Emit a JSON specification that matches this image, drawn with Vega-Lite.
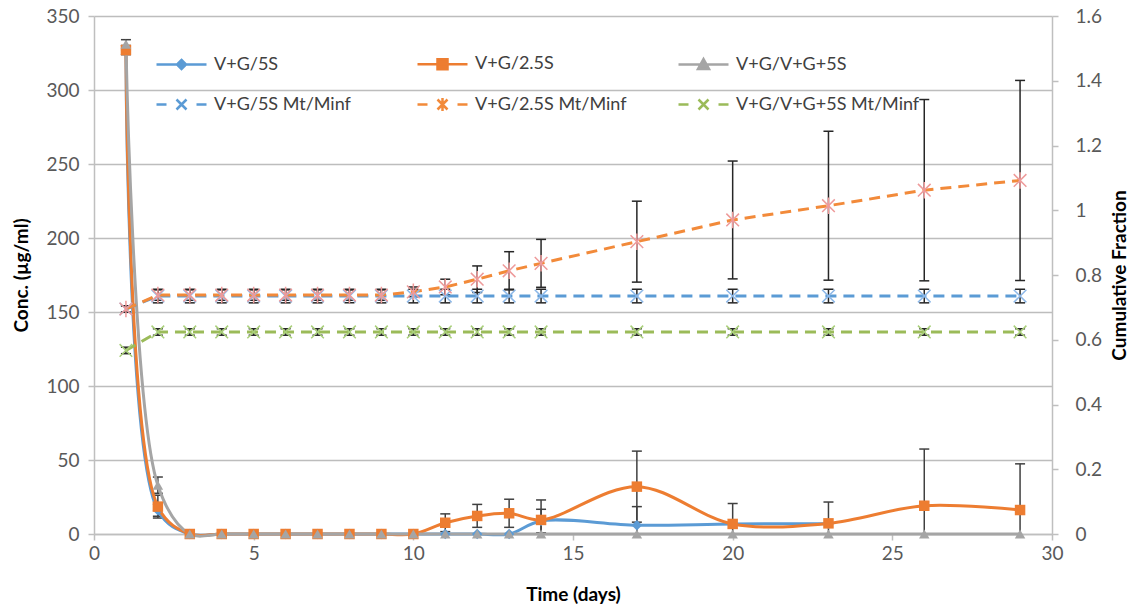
{
  "$schema": "https://vega.github.io/schema/vega-lite/v6.json",
  "width": 958,
  "height": 518,
  "autosize": "none",
  "padding": {"left": 94, "top": 16, "right": 92, "bottom": 76},
  "background": "white",
  "config": {
    "view": {"stroke": null},
    "font": "Lato",
    "axis": {
      "labelFont": "Lato", "labelFontSize": 19, "labelColor": "#595959",
      "titleFont": "Lato", "titleFontSize": 19, "titleFontWeight": "bold", "titleColor": "#000000",
      "domainColor": "#BFBFBF", "domainWidth": 1.5, "tickColor": "#BFBFBF", "tickWidth": 1.5, "tickSize": 6,
      "gridColor": "#BDBDBD", "gridWidth": 1.5
    },
    "axisX": {"grid": false},
    "axisY": {"grid": false}
  },
  "datasets": {
    "conc": [
      {"day": 1, "series": "V+G/5S", "conc": 327, "lo": 324, "hi": 330},
      {"day": 2, "series": "V+G/5S", "conc": 16, "lo": 12, "hi": 20},
      {"day": 3, "series": "V+G/5S", "conc": 0},
      {"day": 4, "series": "V+G/5S", "conc": 0},
      {"day": 5, "series": "V+G/5S", "conc": 0},
      {"day": 6, "series": "V+G/5S", "conc": 0},
      {"day": 7, "series": "V+G/5S", "conc": 0},
      {"day": 8, "series": "V+G/5S", "conc": 0},
      {"day": 9, "series": "V+G/5S", "conc": 0},
      {"day": 10, "series": "V+G/5S", "conc": 0},
      {"day": 11, "series": "V+G/5S", "conc": 0},
      {"day": 12, "series": "V+G/5S", "conc": 0},
      {"day": 13, "series": "V+G/5S", "conc": 0},
      {"day": 14, "series": "V+G/5S", "conc": 8.8, "lo": 0.8, "hi": 16.7},
      {"day": 17, "series": "V+G/5S", "conc": 5.9, "lo": -6.7, "hi": 18.5},
      {"day": 20, "series": "V+G/5S", "conc": 6.8},
      {"day": 23, "series": "V+G/5S", "conc": 7},
      {"day": 1, "series": "V+G/2.5S", "conc": 327, "lo": 324, "hi": 330},
      {"day": 2, "series": "V+G/2.5S", "conc": 18.5, "lo": 10.8, "hi": 26.2},
      {"day": 3, "series": "V+G/2.5S", "conc": 0},
      {"day": 4, "series": "V+G/2.5S", "conc": 0},
      {"day": 5, "series": "V+G/2.5S", "conc": 0},
      {"day": 6, "series": "V+G/2.5S", "conc": 0},
      {"day": 7, "series": "V+G/2.5S", "conc": 0},
      {"day": 8, "series": "V+G/2.5S", "conc": 0},
      {"day": 9, "series": "V+G/2.5S", "conc": 0},
      {"day": 10, "series": "V+G/2.5S", "conc": 0},
      {"day": 11, "series": "V+G/2.5S", "conc": 7.6, "lo": 1.6, "hi": 13.6},
      {"day": 12, "series": "V+G/2.5S", "conc": 12.2, "lo": 4.5, "hi": 20},
      {"day": 13, "series": "V+G/2.5S", "conc": 14, "lo": 4.5, "hi": 23.5},
      {"day": 14, "series": "V+G/2.5S", "conc": 9.5, "lo": -4, "hi": 23},
      {"day": 17, "series": "V+G/2.5S", "conc": 32, "lo": 8, "hi": 56},
      {"day": 20, "series": "V+G/2.5S", "conc": 6.8, "lo": -7, "hi": 20.6},
      {"day": 23, "series": "V+G/2.5S", "conc": 7.2, "lo": -7.2, "hi": 21.6},
      {"day": 26, "series": "V+G/2.5S", "conc": 19.1, "lo": -19.2, "hi": 57.4},
      {"day": 29, "series": "V+G/2.5S", "conc": 16.2, "lo": -15, "hi": 47.4},
      {"day": 1, "series": "V+G/V+G+5S", "conc": 331, "lo": 328, "hi": 334},
      {"day": 2, "series": "V+G/V+G+5S", "conc": 33, "lo": 27.5, "hi": 38.5},
      {"day": 3, "series": "V+G/V+G+5S", "conc": 0},
      {"day": 4, "series": "V+G/V+G+5S", "conc": 0},
      {"day": 5, "series": "V+G/V+G+5S", "conc": 0},
      {"day": 6, "series": "V+G/V+G+5S", "conc": 0},
      {"day": 7, "series": "V+G/V+G+5S", "conc": 0},
      {"day": 8, "series": "V+G/V+G+5S", "conc": 0},
      {"day": 9, "series": "V+G/V+G+5S", "conc": 0},
      {"day": 10, "series": "V+G/V+G+5S", "conc": 0},
      {"day": 11, "series": "V+G/V+G+5S", "conc": 0},
      {"day": 12, "series": "V+G/V+G+5S", "conc": 0},
      {"day": 13, "series": "V+G/V+G+5S", "conc": 0},
      {"day": 14, "series": "V+G/V+G+5S", "conc": 0},
      {"day": 17, "series": "V+G/V+G+5S", "conc": 0},
      {"day": 20, "series": "V+G/V+G+5S", "conc": 0},
      {"day": 23, "series": "V+G/V+G+5S", "conc": 0},
      {"day": 26, "series": "V+G/V+G+5S", "conc": 0},
      {"day": 29, "series": "V+G/V+G+5S", "conc": 0}
    ],
    "frac": [
      {"day": 1, "series": "V+G/5S Mt/Minf", "frac": 0.695, "lo": 0.685, "hi": 0.705},
      {"day": 2, "series": "V+G/5S Mt/Minf", "frac": 0.735, "lo": 0.714, "hi": 0.756},
      {"day": 3, "series": "V+G/5S Mt/Minf", "frac": 0.735, "lo": 0.714, "hi": 0.756},
      {"day": 4, "series": "V+G/5S Mt/Minf", "frac": 0.735, "lo": 0.714, "hi": 0.756},
      {"day": 5, "series": "V+G/5S Mt/Minf", "frac": 0.735, "lo": 0.714, "hi": 0.756},
      {"day": 6, "series": "V+G/5S Mt/Minf", "frac": 0.735, "lo": 0.714, "hi": 0.756},
      {"day": 7, "series": "V+G/5S Mt/Minf", "frac": 0.735, "lo": 0.714, "hi": 0.756},
      {"day": 8, "series": "V+G/5S Mt/Minf", "frac": 0.735, "lo": 0.714, "hi": 0.756},
      {"day": 9, "series": "V+G/5S Mt/Minf", "frac": 0.735, "lo": 0.714, "hi": 0.756},
      {"day": 10, "series": "V+G/5S Mt/Minf", "frac": 0.735, "lo": 0.714, "hi": 0.756},
      {"day": 11, "series": "V+G/5S Mt/Minf", "frac": 0.735, "lo": 0.714, "hi": 0.756},
      {"day": 12, "series": "V+G/5S Mt/Minf", "frac": 0.735, "lo": 0.714, "hi": 0.756},
      {"day": 13, "series": "V+G/5S Mt/Minf", "frac": 0.735, "lo": 0.714, "hi": 0.756},
      {"day": 14, "series": "V+G/5S Mt/Minf", "frac": 0.735, "lo": 0.714, "hi": 0.756},
      {"day": 17, "series": "V+G/5S Mt/Minf", "frac": 0.735, "lo": 0.714, "hi": 0.756},
      {"day": 20, "series": "V+G/5S Mt/Minf", "frac": 0.735, "lo": 0.714, "hi": 0.756},
      {"day": 23, "series": "V+G/5S Mt/Minf", "frac": 0.735, "lo": 0.714, "hi": 0.756},
      {"day": 26, "series": "V+G/5S Mt/Minf", "frac": 0.735, "lo": 0.714, "hi": 0.756},
      {"day": 29, "series": "V+G/5S Mt/Minf", "frac": 0.735, "lo": 0.714, "hi": 0.756},
      {"day": 1, "series": "V+G/2.5S Mt/Minf", "frac": 0.695, "lo": 0.685, "hi": 0.705},
      {"day": 2, "series": "V+G/2.5S Mt/Minf", "frac": 0.738, "lo": 0.722, "hi": 0.754},
      {"day": 3, "series": "V+G/2.5S Mt/Minf", "frac": 0.738, "lo": 0.722, "hi": 0.754},
      {"day": 4, "series": "V+G/2.5S Mt/Minf", "frac": 0.738, "lo": 0.722, "hi": 0.754},
      {"day": 5, "series": "V+G/2.5S Mt/Minf", "frac": 0.738, "lo": 0.722, "hi": 0.754},
      {"day": 6, "series": "V+G/2.5S Mt/Minf", "frac": 0.738, "lo": 0.722, "hi": 0.754},
      {"day": 7, "series": "V+G/2.5S Mt/Minf", "frac": 0.738, "lo": 0.722, "hi": 0.754},
      {"day": 8, "series": "V+G/2.5S Mt/Minf", "frac": 0.738, "lo": 0.722, "hi": 0.754},
      {"day": 9, "series": "V+G/2.5S Mt/Minf", "frac": 0.738, "lo": 0.722, "hi": 0.754},
      {"day": 10, "series": "V+G/2.5S Mt/Minf", "frac": 0.748, "lo": 0.733, "hi": 0.763},
      {"day": 11, "series": "V+G/2.5S Mt/Minf", "frac": 0.763, "lo": 0.739, "hi": 0.787},
      {"day": 12, "series": "V+G/2.5S Mt/Minf", "frac": 0.787, "lo": 0.746, "hi": 0.828},
      {"day": 13, "series": "V+G/2.5S Mt/Minf", "frac": 0.813, "lo": 0.754, "hi": 0.872},
      {"day": 14, "series": "V+G/2.5S Mt/Minf", "frac": 0.836, "lo": 0.762, "hi": 0.91},
      {"day": 17, "series": "V+G/2.5S Mt/Minf", "frac": 0.903, "lo": 0.778, "hi": 1.028},
      {"day": 20, "series": "V+G/2.5S Mt/Minf", "frac": 0.97, "lo": 0.788, "hi": 1.152},
      {"day": 23, "series": "V+G/2.5S Mt/Minf", "frac": 1.014, "lo": 0.784, "hi": 1.244},
      {"day": 26, "series": "V+G/2.5S Mt/Minf", "frac": 1.062, "lo": 0.782, "hi": 1.342},
      {"day": 29, "series": "V+G/2.5S Mt/Minf", "frac": 1.092, "lo": 0.783, "hi": 1.401},
      {"day": 1, "series": "V+G/V+G+5S Mt/Minf", "frac": 0.567, "lo": 0.557, "hi": 0.577},
      {"day": 2, "series": "V+G/V+G+5S Mt/Minf", "frac": 0.624, "lo": 0.614, "hi": 0.634},
      {"day": 3, "series": "V+G/V+G+5S Mt/Minf", "frac": 0.624, "lo": 0.614, "hi": 0.634},
      {"day": 4, "series": "V+G/V+G+5S Mt/Minf", "frac": 0.624, "lo": 0.614, "hi": 0.634},
      {"day": 5, "series": "V+G/V+G+5S Mt/Minf", "frac": 0.624, "lo": 0.614, "hi": 0.634},
      {"day": 6, "series": "V+G/V+G+5S Mt/Minf", "frac": 0.624, "lo": 0.614, "hi": 0.634},
      {"day": 7, "series": "V+G/V+G+5S Mt/Minf", "frac": 0.624, "lo": 0.614, "hi": 0.634},
      {"day": 8, "series": "V+G/V+G+5S Mt/Minf", "frac": 0.624, "lo": 0.614, "hi": 0.634},
      {"day": 9, "series": "V+G/V+G+5S Mt/Minf", "frac": 0.624, "lo": 0.614, "hi": 0.634},
      {"day": 10, "series": "V+G/V+G+5S Mt/Minf", "frac": 0.624, "lo": 0.614, "hi": 0.634},
      {"day": 11, "series": "V+G/V+G+5S Mt/Minf", "frac": 0.624, "lo": 0.614, "hi": 0.634},
      {"day": 12, "series": "V+G/V+G+5S Mt/Minf", "frac": 0.624, "lo": 0.614, "hi": 0.634},
      {"day": 13, "series": "V+G/V+G+5S Mt/Minf", "frac": 0.624, "lo": 0.614, "hi": 0.634},
      {"day": 14, "series": "V+G/V+G+5S Mt/Minf", "frac": 0.624, "lo": 0.614, "hi": 0.634},
      {"day": 17, "series": "V+G/V+G+5S Mt/Minf", "frac": 0.624, "lo": 0.614, "hi": 0.634},
      {"day": 20, "series": "V+G/V+G+5S Mt/Minf", "frac": 0.624, "lo": 0.614, "hi": 0.634},
      {"day": 23, "series": "V+G/V+G+5S Mt/Minf", "frac": 0.624, "lo": 0.614, "hi": 0.634},
      {"day": 26, "series": "V+G/V+G+5S Mt/Minf", "frac": 0.624, "lo": 0.614, "hi": 0.634},
      {"day": 29, "series": "V+G/V+G+5S Mt/Minf", "frac": 0.624, "lo": 0.614, "hi": 0.634}
    ],
    "legend": [
      {"series": "V+G/5S"},
      {"series": "V+G/2.5S"},
      {"series": "V+G/V+G+5S"},
      {"series": "V+G/5S Mt/Minf"},
      {"series": "V+G/2.5S Mt/Minf"},
      {"series": "V+G/V+G+5S Mt/Minf"}
    ]
  },
  "layer": [
    {
      "data": {"name": "conc"},
      "layer": [
        {
          "mark": {"type": "rule", "color": "#404040", "strokeWidth": 1.5, "clip": true},
          "encoding": {
            "x": {"field": "day", "type": "quantitative", "scale": {"domain": [0, 30]},
              "axis": {"values": [0, 5, 10, 15, 20, 25, 30], "title": "Time (days)", "labelPadding": 4, "titlePadding": 22, "labelFlush": false}},
            "y": {"field": "lo", "type": "quantitative", "scale": {"domain": [0, 350]},
              "axis": {"values": [0, 50, 100, 150, 200, 250, 300, 350], "grid": true, "title": "Conc. (µg/ml)", "labelPadding": 9, "titlePadding": 14}},
            "y2": {"field": "hi"}
          }
        },
        {
          "mark": {"type": "tick", "orient": "horizontal", "size": 10, "thickness": 1.5, "color": "#404040", "clip": true, "opacity": 1},
          "encoding": {"x": {"field": "day", "type": "quantitative"}, "y": {"field": "hi", "type": "quantitative"}}
        },
        {
          "mark": {"type": "tick", "orient": "horizontal", "size": 10, "thickness": 1.5, "color": "#404040", "clip": true, "opacity": 1},
          "encoding": {"x": {"field": "day", "type": "quantitative"}, "y": {"field": "lo", "type": "quantitative"}}
        },
        {
          "mark": {"type": "line", "interpolate": "catmull-rom", "strokeWidth": 3},
          "encoding": {
            "x": {"field": "day", "type": "quantitative"},
            "y": {"field": "conc", "type": "quantitative"},
            "color": {"field": "series", "type": "nominal", "scale": {"domain": ["V+G/5S", "V+G/2.5S", "V+G/V+G+5S"], "range": ["#5B9BD5", "#ED7D31", "#A5A5A5"]}, "legend": null}
          }
        },
        {
          "mark": {"type": "point", "filled": true, "opacity": 1, "size": 110},
          "encoding": {
            "x": {"field": "day", "type": "quantitative"},
            "y": {"field": "conc", "type": "quantitative"},
            "color": {"field": "series", "type": "nominal", "scale": {"domain": ["V+G/5S", "V+G/2.5S", "V+G/V+G+5S"], "range": ["#5B9BD5", "#ED7D31", "#A5A5A5"]}, "legend": null},
            "shape": {"field": "series", "type": "nominal", "scale": {"domain": ["V+G/5S", "V+G/2.5S", "V+G/V+G+5S"], "range": ["diamond", "square", "triangle-up"]}, "legend": null}
          }
        }
      ]
    },
    {
      "data": {"name": "frac"},
      "layer": [
        {
          "mark": {"type": "rule", "color": "#262626", "strokeWidth": 1.5, "clip": true},
          "encoding": {
            "x": {"field": "day", "type": "quantitative"},
            "y": {"field": "lo", "type": "quantitative", "scale": {"domain": [0, 1.6]},
              "axis": {"orient": "right", "values": [0, 0.2, 0.4, 0.6, 0.8, 1, 1.2, 1.4, 1.6], "format": "~g", "grid": false, "title": "Cumulative Fraction", "titleAngle": 270, "labelPadding": 17, "titlePadding": 28}},
            "y2": {"field": "hi"}
          }
        },
        {
          "mark": {"type": "tick", "orient": "horizontal", "size": 10, "thickness": 1.5, "color": "#262626", "clip": true, "opacity": 1},
          "encoding": {"x": {"field": "day", "type": "quantitative"}, "y": {"field": "hi", "type": "quantitative"}}
        },
        {
          "mark": {"type": "tick", "orient": "horizontal", "size": 10, "thickness": 1.5, "color": "#262626", "clip": true, "opacity": 1},
          "encoding": {"x": {"field": "day", "type": "quantitative"}, "y": {"field": "lo", "type": "quantitative"}}
        },
        {
          "mark": {"type": "line", "strokeWidth": 3, "strokeDash": [11, 7]},
          "encoding": {
            "x": {"field": "day", "type": "quantitative"},
            "y": {"field": "frac", "type": "quantitative"},
            "color": {"field": "series", "type": "nominal", "scale": {"domain": ["V+G/5S Mt/Minf", "V+G/2.5S Mt/Minf", "V+G/V+G+5S Mt/Minf"], "range": ["#5B9BD5", "#F28A3A", "#9BBB59"]}, "legend": null}
          }
        },
        {
          "mark": {"type": "point", "filled": false, "opacity": 1, "size": 160, "strokeWidth": 1.5},
          "encoding": {
            "x": {"field": "day", "type": "quantitative"},
            "y": {"field": "frac", "type": "quantitative"},
            "stroke": {"field": "series", "type": "nominal", "scale": {"domain": ["V+G/5S Mt/Minf", "V+G/2.5S Mt/Minf", "V+G/V+G+5S Mt/Minf"], "range": ["#8DB8E8", "#EE9A9A", "#A9CF7A"]}, "legend": null},
            "shape": {"field": "series", "type": "nominal", "scale": {"domain": ["V+G/5S Mt/Minf", "V+G/2.5S Mt/Minf", "V+G/V+G+5S Mt/Minf"], "range": ["M-1,-1L1,1M-1,1L1,-1", "M-1,-1L1,1M-1,1L1,-1M0,-1.3V1.3", "M-1,-1L1,1M-1,1L1,-1"]}, "legend": null}
          }
        }
      ]
    },
    {
      "data": {"name": "legend"},
      "transform": [{"filter": "false"}],
      "mark": {"type": "point", "filled": true, "opacity": 1, "strokeWidth": 2.5},
      "encoding": {
        "shape": {"field": "series", "type": "nominal",
          "scale": {"domain": ["V+G/5S", "V+G/2.5S", "V+G/V+G+5S", "V+G/5S Mt/Minf", "V+G/2.5S Mt/Minf", "V+G/V+G+5S Mt/Minf"],
            "range": [
              "M-1,0H1M0,-0.18L0.18,0L0,0.18L-0.18,0Z",
              "M-1,0H1M-0.2,-0.2H0.2V0.2H-0.2Z",
              "M-1,0H1M0,-0.22L0.22,0.18H-0.22Z",
              "M-1,0H-0.6M0.6,0H1M-0.2,-0.2L0.2,0.2M-0.2,0.2L0.2,-0.2",
              "M-1,0H-0.6M0.6,0H1M-0.2,-0.2L0.2,0.2M-0.2,0.2L0.2,-0.2M0,-0.26V0.26",
              "M-1,0H-0.6M0.6,0H1M-0.2,-0.2L0.2,0.2M-0.2,0.2L0.2,-0.2"
            ]},
          "legend": {"title": null, "orient": "none", "direction": "horizontal", "legendX": 61, "legendY": 21, "columns": 3, "gridAlign": "all", "columnPadding": 14, "rowPadding": 3, "symbolSize": 2500, "symbolStrokeWidth": 2.5, "symbolOpacity": 1, "labelFont": "Lato", "labelFontSize": 18, "labelColor": "#404040", "labelOffset": 6, "labelLimit": 0, "padding": 0}},
        "fill": {"field": "series", "type": "nominal",
          "scale": {"domain": ["V+G/5S", "V+G/2.5S", "V+G/V+G+5S", "V+G/5S Mt/Minf", "V+G/2.5S Mt/Minf", "V+G/V+G+5S Mt/Minf"],
            "range": ["#5B9BD5", "#ED7D31", "#A5A5A5", "transparent", "transparent", "transparent"]},
          "legend": {"title": null, "orient": "none", "direction": "horizontal", "legendX": 61, "legendY": 21, "columns": 3, "gridAlign": "all", "columnPadding": 14, "rowPadding": 3, "symbolSize": 2500, "symbolStrokeWidth": 2.5, "symbolOpacity": 1, "labelFont": "Lato", "labelFontSize": 18, "labelColor": "#404040", "labelOffset": 6, "labelLimit": 0, "padding": 0}},
        "stroke": {"field": "series", "type": "nominal",
          "scale": {"domain": ["V+G/5S", "V+G/2.5S", "V+G/V+G+5S", "V+G/5S Mt/Minf", "V+G/2.5S Mt/Minf", "V+G/V+G+5S Mt/Minf"],
            "range": ["#5B9BD5", "#ED7D31", "#A5A5A5", "#5B9BD5", "#F28A3A", "#9BBB59"]},
          "legend": {"title": null, "orient": "none", "direction": "horizontal", "legendX": 61, "legendY": 21, "columns": 3, "gridAlign": "all", "columnPadding": 14, "rowPadding": 3, "symbolSize": 2500, "symbolStrokeWidth": 2.5, "symbolOpacity": 1, "labelFont": "Lato", "labelFontSize": 18, "labelColor": "#404040", "labelOffset": 6, "labelLimit": 0, "padding": 0}}
      }
    }
  ],
  "resolve": {"scale": {"y": "independent", "color": "independent", "shape": "independent", "stroke": "independent", "fill": "independent"}}
}
